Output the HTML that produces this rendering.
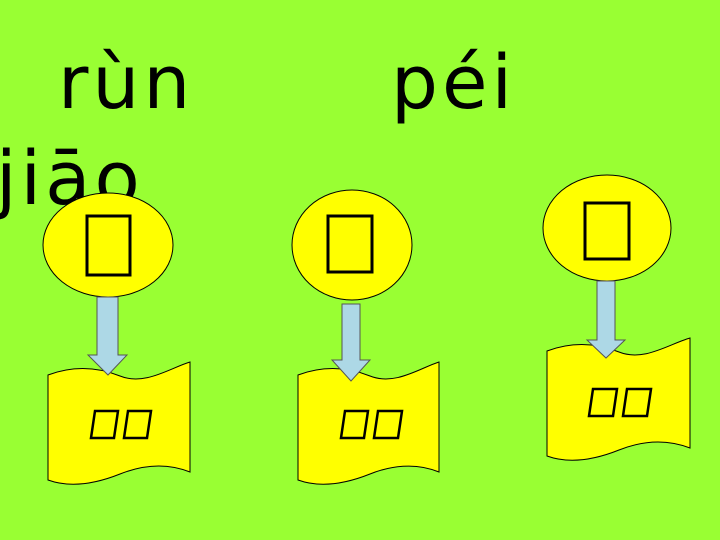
<!DOCTYPE html>
<html><head><meta charset="utf-8"><style>
html,body{margin:0;padding:0}
body{width:720px;height:540px;background:#99FF33;position:relative;overflow:hidden;font-family:"DejaVu Sans","Liberation Sans",sans-serif}
.py{position:absolute;font-size:74px;color:#000;line-height:1;white-space:nowrap;letter-spacing:4px}
svg{position:absolute;left:0;top:0}
</style></head><body>
<div class="py" style="left:58px;top:46px">rùn</div>
<div class="py" style="left:391px;top:46px">péi</div>
<div class="py" style="left:-4px;top:142px">jiāo</div>
<svg width="720" height="540">
<g stroke="#000" stroke-width="1">
<ellipse cx="108" cy="245" rx="65" ry="52" fill="#FFFF00"/>
<ellipse cx="352" cy="245" rx="60" ry="55" fill="#FFFF00"/>
<ellipse cx="607" cy="228" rx="64" ry="53" fill="#FFFF00"/>
<path fill="#FFFF00" d="M48,375 C75,365 100,368 120,376 C145,386 170,368 190,362 L190,472 C165,462 140,466 120,474 C95,484 70,488 48,480 Z"/>
<path fill="#FFFF00" d="M298,375 C325,365 350,368 370,376 C395,386 420,368 439,362 L439,472 C415,462 390,466 370,474 C345,484 320,488 298,480 Z"/>
<path fill="#FFFF00" d="M547,351 C574,341 599,344 619,352 C644,362 669,344 690,338 L690,448 C664,438 639,442 619,450 C594,460 569,464 547,456 Z"/>
<path fill="#ADD8E6" stroke="#555" d="M97,297 H118 V355 H127 L108,375 L88,355 H97 Z"/>
<path fill="#ADD8E6" stroke="#555" d="M342,304 H360 V360 H370 L351,381 L332,360 H342 Z"/>
<path fill="#ADD8E6" stroke="#555" d="M597,281 H615 V340 H625 L606,358 L587,340 H597 Z"/>
</g>
<g fill="none" stroke="#000" stroke-width="3">
<rect x="87" y="216" width="43" height="59"/>
<rect x="328" y="216" width="44" height="56"/>
<rect x="585" y="203" width="44" height="56"/>
</g>
<g fill="none" stroke="#000" stroke-width="2.5">
<polygon points="95,411 118,411 114,438 91,438"/>
<polygon points="128,411 151,411 147,438 124,438"/>
<polygon points="345,411 368,411 364,438 341,438"/>
<polygon points="378,411 402,411 398,438 374,438"/>
<polygon points="593,389 617,389 613,416 589,416"/>
<polygon points="627,389 651,389 647,416 623,416"/>
</g>
</svg>
</body></html>
